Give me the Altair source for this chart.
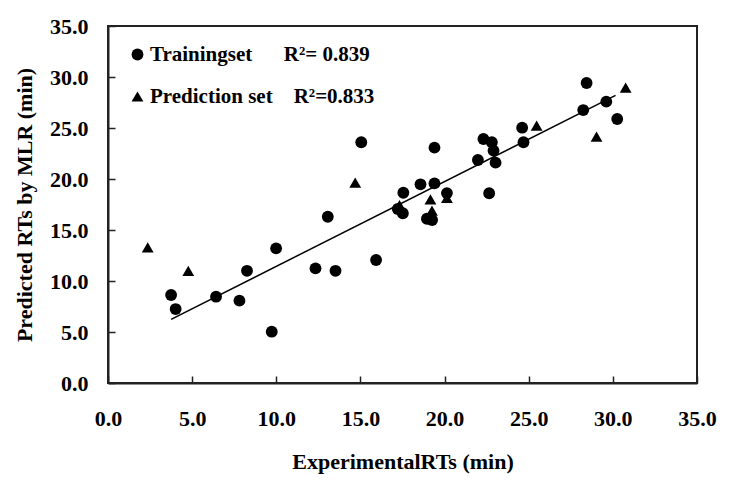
import altair as alt
import pandas as pd

# Training set (circles)
train_x = [3.75, 4.02, 6.42, 7.81, 8.26, 9.73, 9.99, 12.33, 13.06, 13.52, 15.93, 15.05,
           17.22, 17.52, 17.55, 18.57, 19.40, 19.40, 18.95, 19.26, 20.14, 22.65, 21.98,
           23.03, 22.31, 22.81, 22.91, 24.61, 24.69, 28.24, 28.44, 29.61, 30.26]
train_y = [8.63, 7.25, 8.46, 8.07, 11.00, 5.03, 13.20, 11.24, 16.30, 11.00, 12.06, 23.60,
           17.06, 16.64, 18.65, 19.48, 19.57, 23.07, 16.10, 15.98, 18.62, 18.60, 21.86,
           21.60, 23.92, 23.60, 22.78, 25.03, 23.60, 26.76, 29.41, 27.58, 25.88]

# Prediction set (triangles)
pred_x = [2.36, 4.77, 14.69, 17.32, 19.16, 19.25, 20.14, 25.47, 29.03, 30.76]
pred_y = [13.30, 11.00, 19.64, 17.45, 18.00, 16.90, 18.15, 25.23, 24.15, 28.95]

# Fitted line end points
line_x = [3.75, 30.16]
line_y = [6.24, 28.20]

set_names = ["Trainingset", "Prediction set"]
r2_labels = ["R\u00b2= 0.839", "R\u00b2=0.833"]
tick_vals = [0, 5, 10, 15, 20, 25, 30, 35]

FONT = "Liberation Serif"

pts = pd.DataFrame({
    "x": train_x + pred_x,
    "y": train_y + pred_y,
    "set": [set_names[0]] * len(train_x) + [set_names[1]] * len(pred_x),
})
line_df = pd.DataFrame({"x": line_x, "y": line_y})

xscale = alt.Scale(domain=[0, 35], nice=False, zero=False)
yscale = alt.Scale(domain=[0, 35], nice=False, zero=False)

xaxis = alt.Axis(values=tick_vals, format=".1f", title="ExperimentalRTs (min)",
                 grid=False, tickSize={"expr": "-7"}, labelPadding=32,
                 titlePadding=22, domainColor="#222", domainWidth=2,
                 tickColor="#222", tickWidth=1.5, labelFlush=False)
yaxis = alt.Axis(values=tick_vals, format=".1f", title="Predicted RTs by MLR (min)",
                 grid=False, tickSize={"expr": "-7"}, labelPadding=27,
                 titlePadding=13, domainColor="#222", domainWidth=2,
                 tickColor="#222", tickWidth=1.5, labelFlush=False)

label_expr = ("datum.label == '%s' ? '%s\u2002\u2002\u2002%s' : '%s\u2002\u2002%s'"
              % (set_names[0], set_names[0], r2_labels[0], set_names[1], r2_labels[1]))

points = alt.Chart(pts).mark_point(filled=True, color="black", opacity=1, size=140).encode(
    x=alt.X("x:Q", scale=xscale, axis=xaxis),
    y=alt.Y("y:Q", scale=yscale, axis=yaxis),
    shape=alt.Shape("set:N",
                    scale=alt.Scale(domain=set_names, range=["circle", "triangle-up"]),
                    legend=alt.Legend(title=None, orient="none", legendX=19, legendY=18,
                                      labelFont=FONT, labelFontSize=21, labelFontWeight="bold",
                                      labelColor="black", labelExpr=label_expr,
                                      labelLimit=400, symbolSize=140, symbolFillColor="black",
                                      symbolStrokeColor="black", symbolStrokeWidth=0,
                                      labelOffset=2, rowPadding=20, padding=0)),
)

line = alt.Chart(line_df).mark_line(color="black", strokeWidth=1.5).encode(
    x=alt.X("x:Q", scale=xscale, axis=xaxis),
    y=alt.Y("y:Q", scale=yscale, axis=yaxis),
)

chart = alt.layer(line, points).properties(
    width=589, height=357,
    padding={"left": 5, "top": 7, "right": 5, "bottom": 5},
).configure_view(
    stroke="#222", strokeWidth=2
).configure_axis(
    labelFont=FONT, labelFontSize=22, labelFontWeight="bold", labelColor="black",
    titleFont=FONT, titleFontSize=22, titleFontWeight="bold", titleColor="black",
)

chart.save("out.html", embed_options={"renderer": "svg", "actions": False})
